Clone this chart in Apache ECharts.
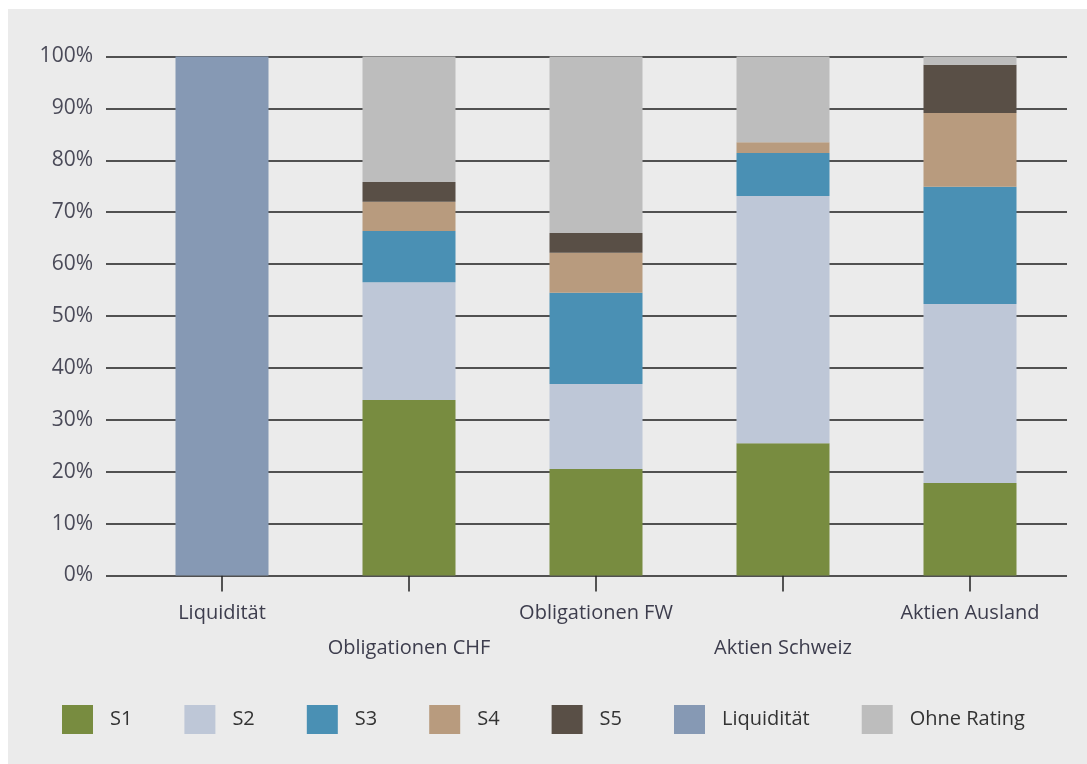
<!DOCTYPE html>
<html><head><meta charset="utf-8">
<script src="https://cdn.jsdelivr.net/npm/echarts@6/dist/echarts.min.js"></script>
<style>html,body{margin:0;padding:0;background:#fff;}#bg{position:absolute;left:8px;top:9px;right:0;bottom:0;background:#ebebeb;}#c{position:absolute;left:0;top:0;width:1087px;height:764px;}</style>
</head><body><div id="bg"></div><div id="c"></div>
<script>
const categories = ['Liquidität', 'Obligationen CHF', 'Obligationen FW', 'Aktien Schweiz', 'Aktien Ausland'];
const seriesNames = ['S1', 'S2', 'S3', 'S4', 'S5', 'Liquidität', 'Ohne Rating'];
const S1 = [0, 33.8, 20.5, 25.5, 17.8];
const S2 = [0, 22.7, 16.4, 47.6, 34.5];
const S3 = [0, 9.9, 17.6, 8.3, 22.6];
const S4 = [0, 5.6, 7.7, 2.1, 14.2];
const S5 = [0, 3.8, 3.8, 0, 9.3];
const Liq = [100, 0, 0, 0, 0];
const Ohne = [0, 24.2, 34.0, 16.5, 1.6];
const yTicks = [0, 10, 20, 30, 40, 50, 60, 70, 80, 90, 100];
const colors = ['#788c40', '#bec7d7', '#4a90b4', '#b89b7e', '#594f46', '#8699b4', '#bdbdbd'];
const values = [S1, S2, S3, S4, S5, Liq, Ohne];

const chart = echarts.init(document.getElementById('c'));
const fontFam = 'Open Sans';
chart.setOption({
  animation: false,
  textStyle: { fontFamily: fontFam },
  grid: [
    { left: 106, right: 20, top: 56.5, bottom: 188.5, containLabel: false },
    { left: 128.5, right: 23.5, top: 56.5, bottom: 188.5, containLabel: false }
  ],
  legend: {
    data: seriesNames,
    left: 57, top: 700,
    itemWidth: 31, itemHeight: 29, itemGap: 52,
    icon: 'rect',
    textStyle: { fontSize: 20, color: '#333', fontFamily: fontFam, padding: [0, 0, 0, 12] }
  },
  xAxis: [
    { type: 'category', gridIndex: 0, data: categories, show: false },
    {
      type: 'category', gridIndex: 1, data: categories,
      axisLine: { show: false },
      axisTick: { show: true, alignWithLabel: true, length: 16, lineStyle: { color: '#222', width: 1.5 } },
      axisLabel: {
        interval: 0, margin: 20, fontSize: 20, color: '#3d3d4d', lineHeight: 35,
        formatter: (v, i) => (i % 2 ? '\n' + v : v)
      }
    }
  ],
  yAxis: [
    {
      type: 'value', gridIndex: 0, min: 0, max: 100, interval: 10,
      axisLine: { show: false }, axisTick: { show: false },
      axisLabel: { margin: 13, fontSize: 21, color: '#4a4a58', formatter: v => (yTicks.includes(v) ? v + '%' : '') },
      splitLine: { show: true, lineStyle: { color: '#1e1e1e', width: 1.6 } }
    },
    { type: 'value', gridIndex: 1, min: 0, max: 100, interval: 10, show: false, splitLine: { show: false } }
  ],
  series: seriesNames.map((name, k) => ({
    name, type: 'bar', stack: 'total', xAxisIndex: 1, yAxisIndex: 1,
    barWidth: 93, data: values[k].map(v => (v === 0 ? null : v)),
    itemStyle: { color: colors[k] }
  }))
});
</script>
</body></html>
